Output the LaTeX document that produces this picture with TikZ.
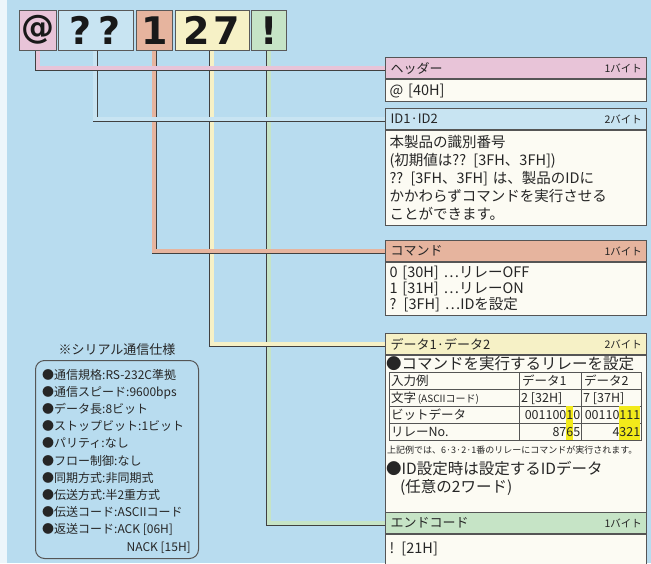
\documentclass[tikz,border=0pt]{standalone}
\usepackage{fontspec}
\setmainfont{Noto Sans CJK JP}
\newfontfamily\bigfont{DejaVu Sans}
\usetikzlibrary{positioning}
\definecolor{bgc}{HTML}{B8DCEF}
\definecolor{pinkc}{HTML}{E8C4D8}
\definecolor{bluec}{HTML}{C8E4F2}
\definecolor{salmonc}{HTML}{E6B49E}
\definecolor{yellowc}{HTML}{F6F1C6}
\definecolor{greenc}{HTML}{C6E4C6}
\definecolor{bodyc}{HTML}{FCFBF3}
\definecolor{framec}{HTML}{555555}
\definecolor{hlc}{HTML}{F2EA1A}
\tikzset{
        fieldbar/.style = {draw=framec, line width=1.1pt, anchor=north west,
            minimum width=261pt, minimum height=21pt, text width=251pt,
            inner xsep=5pt, inner ysep=0pt, align=left,
            font=\fontsize{13}{14}\selectfont},
        bytelabel/.style = {inner sep=0pt, font=\fontsize{10.5}{12}\selectfont},
        fieldbody/.style = {draw=framec, line width=1.1pt, fill=bodyc, anchor=north west,
            minimum width=261pt, text width=253pt, inner xsep=4pt, align=left,
            font=\fontsize{14.5}{18}\selectfont},
        charbox/.style = {draw=gray!70!black, line width=0.5pt, minimum height=40pt,
            inner sep=0pt, text=black!90, font=\bigfont\bfseries\fontsize{38}{38}\selectfont},
        link/.style = {draw=gray!50!black, line width=0.7pt, double distance=3.6pt},
        tabtext/.style = {anchor=base west, inner sep=0pt, font=\fontsize{12.5}{14}\selectfont},
        spec/.style = {anchor=base west, inner sep=0pt, font=\fontsize{12}{13}\selectfont},
    }
\newcommand{\hlt}[1]{{\setlength{\fboxsep}{0pt}\colorbox{hlc}{\rule[-4pt]{0pt}{17pt}#1}}}

\begin{document}
\begin{tikzpicture}[x=1pt, y=-1pt, text=black!85]
  \useasboundingbox (0,0) rectangle (651,563);
  \fill[bgc] (0,0) rectangle (651,563);
  \fill[white!75!bgc] (0,0) rectangle (7,563);

  % the command string
  \node[charbox, anchor=north west, fill=pinkc, minimum width=37pt,
        font=\bigfont\bfseries\fontsize{33}{33}\selectfont] (chAt) at (19,10) {@};
  \node[charbox, fill=bluec, minimum width=75pt, right=1pt of chAt] (chQ) {?\hspace{7pt}?};
  \node[charbox, fill=salmonc, minimum width=36pt, right=3pt of chQ] (chOne) {1};
  \node[charbox, fill=yellowc, minimum width=74pt, right=2pt of chOne] (chTwo) {2\hspace{3pt}7};
  \node[charbox, fill=greenc, minimum width=35pt, right=2pt of chTwo] (chEx) {!};

  % field boxes
  \foreach \nm/\yy/\cc/\ttl/\nb in {hdr/57/pinkc/ヘッダー/1, id/108/bluec/ID1·ID2/2,
      cmd/240/salmonc/コマンド/1, dat/333/yellowc/データ1·データ2/2, end/512/greenc/エンドコード/1}{
    \node[fieldbar, fill=\cc] (\nm-t) at (385,\yy) {\ttl};
    \node[bytelabel, left=5pt of \nm-t.east] (\nm-n) {\nb バイト};
  }
  \node[fieldbody, minimum height=22pt] (hdr-b) at (hdr-t.south west) {@ [40H]};
  \node[fieldbody, minimum height=95pt] (id-b) at (id-t.south west)
    {本製品の識別番号\\(初期値は?? [3FH、3FH])\\?? [3FH、3FH] は、製品のIDに\\かかわらずコマンドを実行させる\\ことができます。};
  \node[fieldbody, minimum height=51pt, font=\fontsize{14.5}{16}\selectfont] (cmd-b) at (cmd-t.south west)
    {0 [30H] ⋯リレーOFF\\1 [31H] ⋯リレーON\\? [3FH] ⋯IDを設定};
  \node[fieldbody, minimum height=157pt] (dat-b) at (dat-t.south west) {};
  \node[fieldbody, minimum height=40pt, text depth=14pt] (end-b) at (end-t.south west) {! [21H]};

  % inside the data box
  \node[anchor=west, inner sep=0pt, font=\fontsize{15.5}{17}\selectfont] (datA) at (386,364)
    {●コマンドを実行するリレーを設定};
  \draw[framec, line width=0.7pt] (389,372) rectangle (641,440);
  \foreach \ry in {389,406,423}
    \draw[framec, line width=0.7pt] (389,\ry) -- (641,\ry);
  \foreach \cx in {519,581}
    \draw[framec, line width=0.7pt] (\cx,372) -- (\cx,440);
  \node[tabtext] (rowA) at (391,385) {入力例};
  \node[tabtext] (rowAa) at (522,385) {データ1};
  \node[tabtext] (rowAb) at (584,385) {データ2};
  \node[tabtext] (rowB) at (391,402) {文字{\fontsize{10}{12}\selectfont\,(ASCIIコード)}};
  \node[tabtext] (rowBa) at (521,402) {2 [32H]};
  \node[tabtext] (rowBb) at (583,402) {7 [37H]};
  \node[tabtext] (rowC) at (391,419) {ビットデータ};
  \node[tabtext, anchor=base east] (rowCa) at (580.5,419) {001100\hlt{1}0};
  \node[tabtext, anchor=base east] (rowCb) at (640.5,419) {00110\hlt{111}};
  \node[tabtext] (rowD) at (391,436) {リレーNo.};
  \node[tabtext, anchor=base east] (rowDa) at (580.5,436) {87\hlt{6}5};
  \node[tabtext, anchor=base east] (rowDb) at (640.5,436) {4\hlt{321}};
  \node[anchor=west, inner sep=0pt, font=\fontsize{9}{10}\selectfont] (datB) at (387,450)
    {上記例では、6·3·2·1番のリレーにコマンドが実行されます。};
  \node[anchor=west, inner sep=0pt, font=\fontsize{15.5}{17}\selectfont] (datC) at (386,469)
    {●ID設定時は設定するIDデータ};
  \node[anchor=west, inner sep=0pt, font=\fontsize{15.5}{17}\selectfont] (datD) at (400,488)
    {(任意の2ワード)};

  % connectors, last field first
  \draw[link, double=greenc] (chEx.south) |- (end-t.west);
  \draw[link, double=yellowc] (chTwo.south) |- (dat-t.west);
  \draw[link, double=salmonc] (chOne.south) |- (cmd-t.west);
  \draw[link, double=bluec] (chQ.south) |- (id-t.west);
  \draw[link, double=pinkc] (chAt.south) |- (hdr-t.west);

  % serial spec
  \node[inner sep=0pt, font=\fontsize{13}{14}\selectfont] (specT) at (117,350) {※シリアル通信仕様};
  \node[draw=framec, line width=1pt, rounded corners=9pt, anchor=north west,
        minimum width=163pt, minimum height=198pt] (specB) at (35,360) {};
  \foreach \txt [count=\i] in {●通信規格:RS-232C準拠, ●通信スピード:9600bps, ●データ長:8ビット,
      ●ストップビット:1ビット, ●パリティ:なし, ●フロー制御:なし, ●同期方式:非同期式,
      ●伝送方式:半2重方式, ●伝送コード:ASCIIコード, ●返送コード:ACK [06H]}
    \node[spec] (spec\i) at (42,379+\i*17.2-17.2) {\txt};
  \node[spec, anchor=base east] (specN) at (191,551) {NACK [15H]};
\end{tikzpicture}
\end{document}
